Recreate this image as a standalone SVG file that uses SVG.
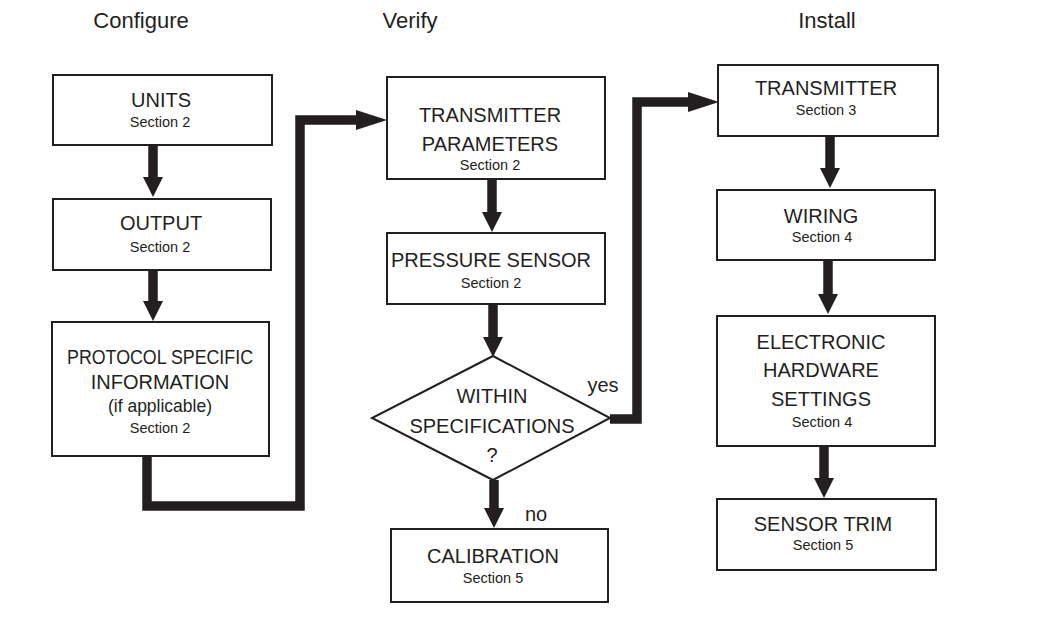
<svg xmlns="http://www.w3.org/2000/svg" width="1040" height="619" viewBox="0 0 1040 619">
<style>
.box{fill:#fff;stroke:#231f20;stroke-width:2}
.t{font-family:"Liberation Sans",Arial,sans-serif;fill:#231f20;text-anchor:middle;font-size:20px}
.s{font-family:"Liberation Sans",Arial,sans-serif;fill:#231f20;text-anchor:middle;font-size:14.5px}
.h{font-family:"Liberation Sans",Arial,sans-serif;fill:#231f20;text-anchor:middle;font-size:22px}
.c{fill:none;stroke:#231f20;stroke-width:9.5;stroke-linejoin:miter;stroke-linecap:butt}
</style>
<defs>
<marker id="av" viewBox="0 0 20 20" refX="0" refY="10" markerWidth="20" markerHeight="20" markerUnits="userSpaceOnUse" orient="auto"><path d="M0,0 L20,10 L0,20 Z" fill="#231f20"/></marker>
<marker id="ah" viewBox="0 0 31 20" refX="0" refY="10" markerWidth="31" markerHeight="20" markerUnits="userSpaceOnUse" orient="auto"><path d="M0,0 L31,10 L0,20 Z" fill="#231f20"/></marker>
</defs>
<rect width="1040" height="619" fill="#fff"/>
<g id="headers">
<text class="h" x="141" y="28">Configure</text>
<text class="h" x="410" y="28">Verify</text>
<text class="h" x="827" y="28">Install</text>
</g>
<g id="connectors">
<path class="c" d="M153,145 V177" marker-end="url(#av)"/>
<path class="c" d="M153,270 V301" marker-end="url(#av)"/>
<path class="c" d="M147,456 V506 H300 V120 H356" marker-end="url(#ah)"/>
<path class="c" d="M492,179 V212" marker-end="url(#av)"/>
<path class="c" d="M493,304 V337" marker-end="url(#av)"/>
<path class="c" d="M610,419 H637 V102 H688" marker-end="url(#ah)"/>
<path class="c" d="M494,480 V508" marker-end="url(#av)"/>
<path class="c" d="M830,136 V168" marker-end="url(#av)"/>
<path class="c" d="M828,260 V294" marker-end="url(#av)"/>
<path class="c" d="M824,446 V478" marker-end="url(#av)"/>
</g>
<g id="units"><rect class="box" x="53" y="75" width="219" height="70"/><text class="t" x="161" y="107">UNITS</text><text class="s" x="160" y="127">Section 2</text></g>
<g id="output"><rect class="box" x="53" y="199" width="218" height="71"/><text class="t" x="161" y="230">OUTPUT</text><text class="s" x="160" y="252">Section 2</text></g>
<g id="protocol"><rect class="box" x="52" y="322" width="217" height="134"/><text class="t" x="160" y="364" textLength="186" lengthAdjust="spacingAndGlyphs">PROTOCOL SPECIFIC</text><text class="t" x="160" y="389">INFORMATION</text><text class="t" x="160" y="412" style="font-size:17.5px">(if applicable)</text><text class="s" x="160" y="433">Section 2</text></g>
<g id="transmitter-parameters"><rect class="box" x="387" y="77" width="218" height="102"/><text class="t" x="490" y="122">TRANSMITTER</text><text class="t" x="490" y="151">PARAMETERS</text><text class="s" x="490" y="170">Section 2</text></g>
<g id="pressure-sensor"><rect class="box" x="387" y="233" width="218" height="71"/><text class="t" x="491" y="267">PRESSURE SENSOR</text><text class="s" x="491" y="288">Section 2</text></g>
<g id="within-specifications"><polygon class="box" points="493,356 610,418 493,480 372,418"/><text class="t" x="492" y="403">WITHIN</text><text class="t" x="492" y="433">SPECIFICATIONS</text><text class="t" x="492" y="462">?</text></g>
<g id="labels"><text class="t" x="603" y="392">yes</text><text class="t" x="536" y="521">no</text></g>
<g id="calibration"><rect class="box" x="391" y="529" width="217" height="73"/><text class="t" x="493" y="563">CALIBRATION</text><text class="s" x="493" y="583">Section 5</text></g>
<g id="transmitter"><rect class="box" x="718" y="65" width="220" height="71"/><text class="t" x="826" y="95">TRANSMITTER</text><text class="s" x="826" y="115">Section 3</text></g>
<g id="wiring"><rect class="box" x="717" y="190" width="218" height="70"/><text class="t" x="821" y="223">WIRING</text><text class="s" x="822" y="242">Section 4</text></g>
<g id="electronic-hardware-settings"><rect class="box" x="717" y="316" width="218" height="130"/><text class="t" x="821" y="349">ELECTRONIC</text><text class="t" x="821" y="377">HARDWARE</text><text class="t" x="821" y="406">SETTINGS</text><text class="s" x="822" y="427">Section 4</text></g>
<g id="sensor-trim"><rect class="box" x="717" y="499" width="219" height="71"/><text class="t" x="823" y="531">SENSOR TRIM</text><text class="s" x="823" y="550">Section 5</text></g>
</svg>
